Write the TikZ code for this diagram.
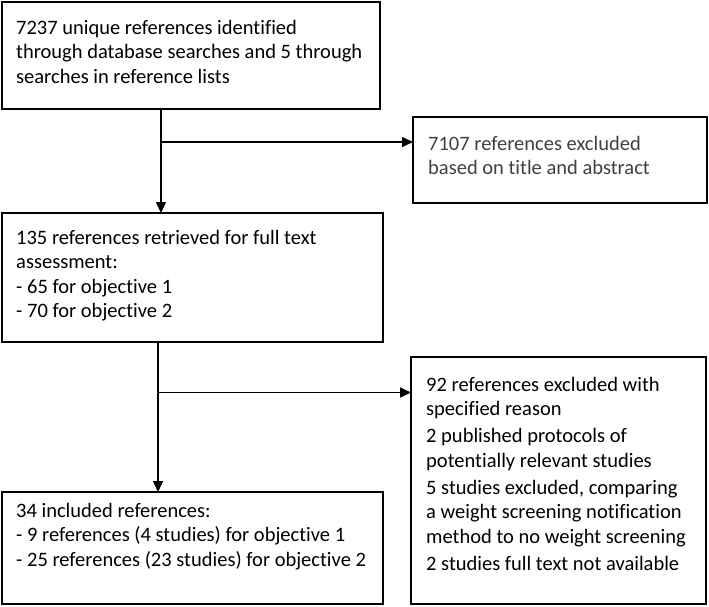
\documentclass[tikz,border=0pt]{standalone}
\usepackage{fontspec}
\setmainfont{Carlito}[Ligatures={NoCommon,NoRequired,NoContextual}]
\usetikzlibrary{arrows.meta}
\newcommand{\boxtext}[1]{\begin{tabular}[t]{@{}l@{}}#1\end{tabular}}
\begin{document}
\begin{tikzpicture}[x=1pt,y=-1pt,
  boxnode/.style={draw=black, line width=1.5pt, inner sep=0pt, outer sep=0pt, anchor=north west},
  txt/.style={anchor=base west, inner sep=0pt, font=\fontsize{20.5}{24.5}\selectfont},
  arr/.style={line width=1.5pt, -{Triangle[length=11pt,width=10pt]}},
  ln/.style={line width=1.5pt}]
\useasboundingbox (0,0) rectangle (709,606);
% boxes
\node[boxnode, minimum width=378pt, minimum height=107pt] (b1) at (2,2) {};
\node[boxnode, minimum width=381pt, minimum height=129pt] (b2) at (2,213) {};
\node[boxnode, minimum width=294pt, minimum height=86pt] (b3) at (413,117) {};
\node[boxnode, minimum width=295pt, minimum height=247pt] (b4) at (411,357) {};
\node[boxnode, minimum width=381pt, minimum height=112pt] (b5) at (2,492) {};
% texts
\node[txt] (t1) at (16,34) {\boxtext{7237 unique references identified\\through database searches and 5 through\\searches in reference lists}};
\node[txt] (t2) at (16,244) {\boxtext{135 references retrieved for full text\\assessment:\\- 65 for objective 1\\- 70 for objective 2}};
\node[txt, text=black!75] (t3) at (428,150) {\boxtext{7107 references excluded\\based on title and abstract}};
\node[txt] (t4) at (426,391) {\boxtext{92 references excluded with\\specified reason\\[2.5pt]2 published protocols of\\potentially relevant studies\\[2.5pt]5 studies excluded, comparing\\a weight screening notification\\method to no weight screening\\[2.5pt]2 studies full text not available}};
\node[txt] (t5) at (16,517) {\boxtext{34 included references:\\- 9 references (4 studies) for objective 1\\- 25 references (23 studies) for objective 2}};
% connectors
\coordinate (c1) at (161,142);
\coordinate (c2) at (158,392.5);
\draw[arr] (b1.south -| c1) -- (b2.north -| c1);
\draw[arr] (c1) -- (c1 -| b3.west);
\draw[arr] (b2.south -| c2) -- (b5.north -| c2);
\draw[arr] (c2) -- (c2 -| b4.west);
\end{tikzpicture}
\end{document}
